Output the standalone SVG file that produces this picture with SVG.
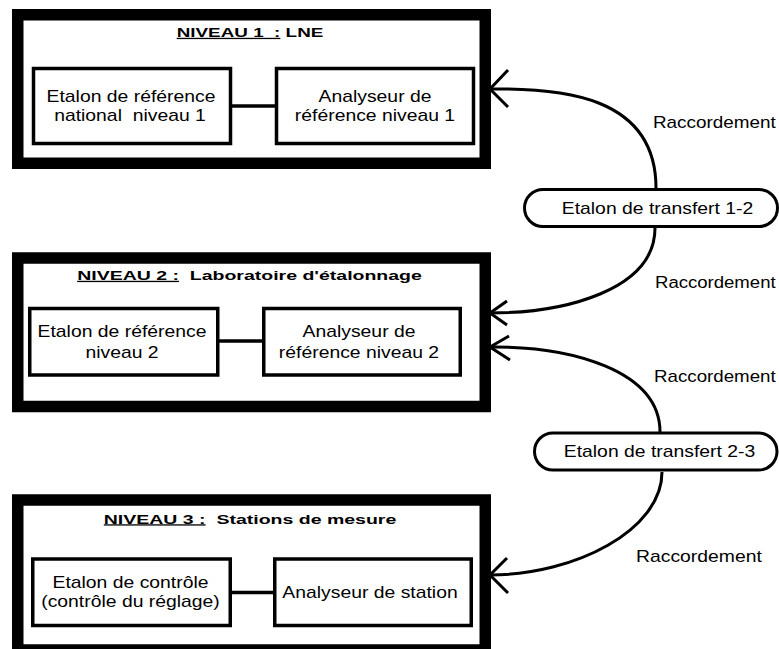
<svg xmlns="http://www.w3.org/2000/svg" width="779" height="649" viewBox="0 0 779 649">
  <style>
    .level { fill: #fff; stroke: #000; stroke-width: 11.5; }
    .box { fill: #fff; stroke: #000; stroke-width: 3.5; }
    .pill { fill: #fff; stroke: #000; stroke-width: 3; }
    .link { fill: none; stroke: #000; stroke-width: 3.5; }
    .curve { fill: none; stroke: #000; stroke-width: 3; }
    .head { fill: none; stroke: #000; stroke-width: 3; stroke-linecap: butt; }
    text { font-family: "Liberation Sans", Arial, sans-serif; fill: #000; white-space: pre; }
    .t { font-size: 16px; text-anchor: middle; }
    .ts { font-size: 16px; text-anchor: start; }
    .title { font-size: 13px; font-weight: bold; text-anchor: middle; }
    .u { text-decoration: underline; }
  </style>

  <!-- Level 1 -->
  <g id="niveau1">
    <rect class="level" x="17.75" y="14.75" width="467.5" height="148.5"/>
    <text class="title" xml:space="preserve" transform="translate(250,37) scale(1.45,1)"><tspan class="u">NIVEAU 1  :</tspan> LNE</text>
  </g>
  <g id="etalon-ref-1">
    <rect class="box" x="33.5" y="68.5" width="197" height="75"/>
    <text class="t" transform="translate(131,102) scale(1.21,1)">Etalon de référence</text>
    <text class="t" xml:space="preserve" transform="translate(130,121) scale(1.21,1)">national  niveau 1</text>
  </g>
  <g id="analyseur-ref-1">
    <rect class="box" x="276.5" y="68.5" width="197" height="75"/>
    <text class="t" transform="translate(375,102) scale(1.21,1)">Analyseur de</text>
    <text class="t" transform="translate(375,121) scale(1.21,1)">référence niveau 1</text>
  </g>

  <!-- Level 2 -->
  <g id="niveau2">
    <rect class="level" x="17.75" y="258" width="467.5" height="148.5"/>
    <text class="title" xml:space="preserve" transform="translate(249.5,280) scale(1.5,1)"><tspan class="u">NIVEAU 2 :</tspan>  Laboratoire d'étalonnage</text>
  </g>
  <g id="etalon-ref-2">
    <rect class="box" x="29.75" y="308.5" width="188" height="66.5"/>
    <text class="t" transform="translate(122,337) scale(1.21,1)">Etalon de référence</text>
    <text class="t" transform="translate(122,358) scale(1.21,1)">niveau 2</text>
  </g>
  <g id="analyseur-ref-2">
    <rect class="box" x="263.75" y="308.5" width="196.5" height="66.5"/>
    <text class="t" transform="translate(359,337) scale(1.21,1)">Analyseur de</text>
    <text class="t" transform="translate(359,358) scale(1.21,1)">référence niveau 2</text>
  </g>

  <!-- Level 3 -->
  <g id="niveau3">
    <rect class="level" x="17.75" y="500" width="467.5" height="150"/>
    <text class="title" xml:space="preserve" transform="translate(250,523.5) scale(1.5,1)"><tspan class="u">NIVEAU 3 :</tspan>  Stations de mesure</text>
  </g>
  <g id="etalon-controle">
    <rect class="box" x="32.75" y="559" width="197.5" height="66.5"/>
    <text class="t" transform="translate(130.5,587.5) scale(1.21,1)">Etalon de contrôle</text>
    <text class="t" transform="translate(130.5,606.5) scale(1.21,1)">(contrôle du réglage)</text>
  </g>
  <g id="analyseur-station">
    <rect class="box" x="274.75" y="559" width="196.5" height="66.5"/>
    <text class="t" transform="translate(370,597.5) scale(1.21,1)">Analyseur de station</text>
  </g>

  <!-- Transfer standards -->
  <g id="transfert-1-2">
    <rect class="pill" x="524.5" y="189.5" width="253" height="37" rx="18.5" ry="18.5"/>
    <text class="t" transform="translate(657.5,213.5) scale(1.21,1)">Etalon de transfert 1-2</text>
  </g>
  <g id="transfert-2-3">
    <rect class="pill" x="534.5" y="433" width="242.5" height="37" rx="18.5" ry="18.5"/>
    <text class="t" transform="translate(659.5,457) scale(1.21,1)">Etalon de transfert 2-3</text>
  </g>

  <!-- Connectors -->
  <g id="connectors">
    <line class="link" x1="232" y1="106" x2="275" y2="106"/>
    <line class="link" x1="219" y1="341" x2="262" y2="341"/>
    <line class="link" x1="232" y1="592.5" x2="273" y2="592.5"/>

    <path class="curve" d="M656,188 C656,95 560,88 490,89"/>
    <polyline class="head" points="508,70 490,89 508,107"/>
    <path class="curve" d="M655,228 C655,290 565,313 490,313"/>
    <polyline class="head" points="507,301 490,313 507,325"/>
    <path class="curve" d="M660,432 C660,370 570,346 490,347"/>
    <polyline class="head" points="509,336 490,347 510,360"/>
    <path class="curve" d="M662,472 C662,530 575,575 490,575"/>
    <polyline class="head" points="507,558 490,575 508,593"/>

    <text class="ts" transform="translate(653,128) scale(1.18,1)">Raccordement</text>
    <text class="ts" transform="translate(655,288) scale(1.16,1)">Raccordement</text>
    <text class="ts" transform="translate(654,382) scale(1.17,1)">Raccordement</text>
    <text class="ts" transform="translate(636,562) scale(1.21,1)">Raccordement</text>
  </g>
</svg>
